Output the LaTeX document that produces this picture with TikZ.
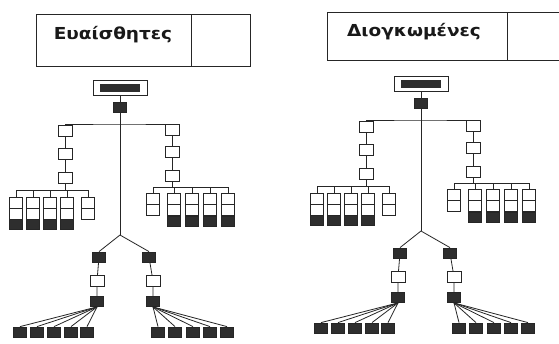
\documentclass[tikz,border=0pt]{standalone}
\usepackage{fontspec}
\newfontfamily\titlefont[FakeStretch=1.12]{DejaVu Sans}
\definecolor{darkfill}{gray}{0.18}
\tikzset{
  conn/.style={line width=0.8pt, draw=black!85},
  wbox/.style={draw=black!85, line width=0.8pt, fill=white, minimum width=14pt, minimum height=11pt, inner sep=0pt},
  gbox/.style={draw=black!85, line width=0.8pt, fill=white, minimum width=13pt, minimum height=11pt, inner sep=0pt},
  dgbox/.style={draw=black!85, line width=0.8pt, fill=darkfill, minimum width=13pt, minimum height=10pt, inner sep=0pt},
  dbox/.style={draw=black!85, line width=0.8pt, fill=darkfill, minimum width=13pt, minimum height=10pt, inner sep=0pt},
  rootbox/.style={draw=black!85, line width=0.8pt, fill=white, minimum width=54pt, minimum height=15pt, inner sep=0pt},
  rootbar/.style={fill=darkfill, minimum width=40pt, minimum height=8pt, inner sep=0pt},
  titlebox/.style={draw=black!85, line width=1pt, inner sep=0pt},
  titletext/.style={inner sep=0pt, text=black!90, font=\titlefont\bfseries\fontsize{16.5}{20}\selectfont},
}
\newcommand\drawtree[1]{%
  \node[rootbox] (#1root) at (120,87.5) {};
  \node[rootbar] (#1rootbar) at (120,87.5) {};
  \node[dbox] (#1top) at (120,107) {};
  \coordinate (#1hub) at (120,124);
  \coordinate (#1fork) at (120,235);
  \draw[conn] (#1root) -- (#1top);
  \draw[conn] (#1top) -- (#1fork);
  % upper branches
  \node[wbox] (#1l1) at (65,131) {};
  \node[wbox] (#1l2) at (65,154) {};
  \node[wbox] (#1l3) at (65,178) {};
  \node[wbox] (#1r1) at (172,130) {};
  \node[wbox] (#1r2) at (172,152) {};
  \node[wbox] (#1r3) at (172,176) {};
  \draw[conn] (#1l1.north) |- (#1hub) -| (#1r1.north);
  \draw[conn] (#1l1) -- (#1l2) -- (#1l3);
  \draw[conn] (#1r1) -- (#1r2) -- (#1r3);
  % left group
  \coordinate (#1lbus) at (65,190);
  \draw[conn] (#1l3) -- (#1lbus);
  \foreach \i/\x in {1/16,2/33,3/50,4/67,5/88}{
    \node[gbox] (#1a\i t) at (\x,202.5) {};
    \node[gbox] (#1a\i m) at (\x,213.5) {};
    \draw[conn] (#1a\i t.north) -- (#1a\i t.north |- #1lbus);
  }
  \foreach \i in {1,2,3,4}{
    \node[dgbox] (#1a\i d) at (#1a\i m.south) [anchor=north, yshift=0.4pt] {};
  }
  \draw[conn] (#1a1t.north |- #1lbus) -- (#1a5t.north |- #1lbus);
  % right group
  \coordinate (#1rbus) at (172,187);
  \draw[conn] (#1r3) -- (#1rbus);
  \foreach \i/\x in {1/153,2/174,3/192,4/210,5/228}{
    \node[gbox] (#1b\i t) at (\x,199) {};
    \node[gbox] (#1b\i m) at (\x,210) {};
    \draw[conn] (#1b\i t.north) -- (#1b\i t.north |- #1rbus);
  }
  \foreach \i in {2,3,4,5}{
    \node[dgbox] (#1b\i d) at (#1b\i m.south) [anchor=north, yshift=0.4pt] {};
  }
  \draw[conn] (#1b1t.north |- #1rbus) -- (#1b5t.north |- #1rbus);
  % lower branches
  \node[dbox] (#1p1) at (99,257) {};
  \node[wbox] (#1p2) at (97,281) {};
  \node[dbox] (#1p3) at (97,301.5) {};
  \node[dbox] (#1q1) at (149,257) {};
  \node[wbox] (#1q2) at (153,281) {};
  \node[dbox] (#1q3) at (153,301.5) {};
  \draw[conn] (#1p1.north) -- (#1fork) -- (#1q1.north);
  \draw[conn] (#1p1) -- (#1p2) -- (#1p3);
  \draw[conn] (#1q1) -- (#1q2) -- (#1q3);
  \foreach \i/\x in {1/20,2/37,3/54,4/71,5/87}{
    \node[dbox] (#1c\i) at (\x,332) {};
    \draw[conn] (#1p3.south) -- (#1c\i.north);
  }
  \foreach \i/\x in {1/158,2/175,3/193,4/210,5/227}{
    \node[dbox] (#1d\i) at (\x,332) {};
    \draw[conn] (#1q3.south) -- (#1d\i.north);
  }
}
\begin{document}
\begin{tikzpicture}[x=1pt,y=-1pt]
\useasboundingbox (0,0) rectangle (559,343);
\fill[white] (0,0) rectangle (559,343);
% title boxes
\node[titlebox, minimum width=155pt, minimum height=52pt] (Ltitle) at (113.5,40) {};
\node[titlebox, minimum width=59pt, minimum height=52pt] (Lside) at (220.5,40) {};
\node[titletext] (Ltext) at (113,35) {Ευαίσθητες};
\node[titlebox, minimum width=180pt, minimum height=48pt] (Rtitle) at (417,36) {};
\node[titlebox, minimum width=60pt, minimum height=48pt] (Rside) at (537,36) {};
\node[titletext] (Rtext) at (414,32) {Διογκωμένες};
\drawtree{L}
\begin{scope}[shift={(301,-4)}]
\drawtree{R}
\end{scope}
\end{tikzpicture}
\end{document}
